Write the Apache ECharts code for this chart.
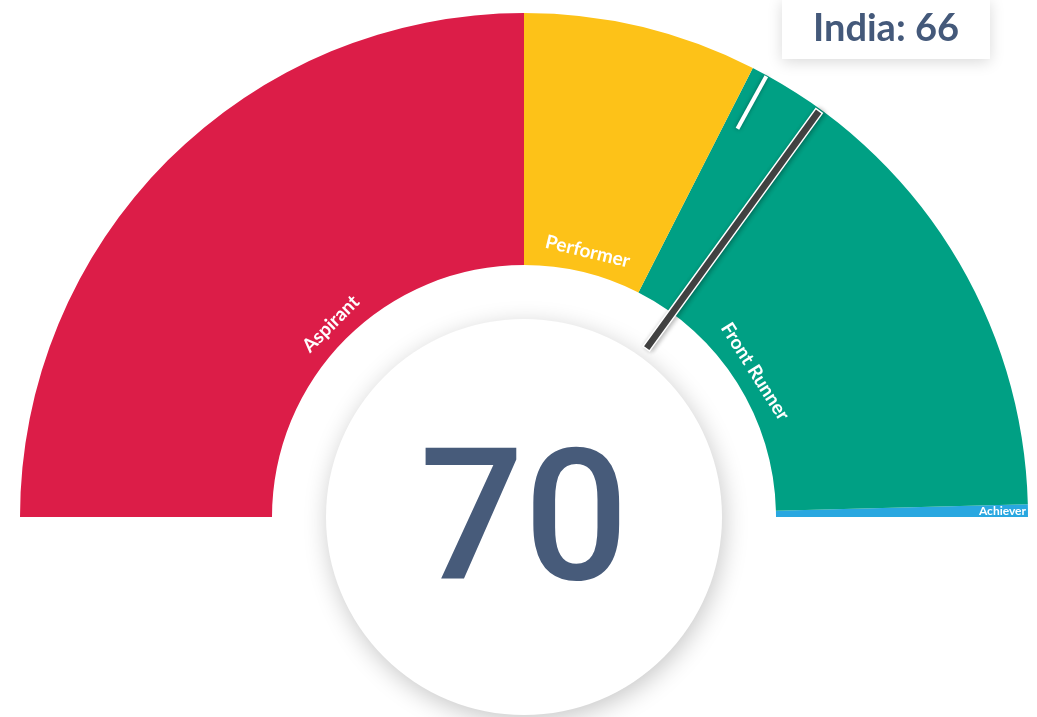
<!DOCTYPE html>
<html>
<head>
<meta charset="utf-8">
<script src="https://cdn.jsdelivr.net/npm/echarts@6/dist/echarts.min.js"></script>
<style>
  html, body { margin: 0; padding: 0; background: #fff; }
  #chart { width: 1037px; height: 717px; }
</style>
</head>
<body>
<div id="chart"></div>
<script>
// bands of the score scale (upper bound of each band)
const bandNames = ["Aspirant", "Performer", "Front Runner", "Achiever"];
const bandEnds = [50, 65, 99.2, 100];
const bandColors = ["#dc1d48", "#fdc218", "#00a084", "#29a7e0"];

const scoreValue = 70;
const indiaName = "India";
const indiaValue = 66;

const cx = 524;
const cy = 517;
const outerR = 504;
const innerR = 252;

const bandSizes = bandEnds.map((v, i) => v - (i === 0 ? 0 : bandEnds[i - 1]));

const chart = echarts.init(document.querySelector("#chart"));

const gaugeBase = {
  type: "gauge",
  center: [cx, cy],
  radius: outerR,
  startAngle: 180,
  endAngle: 0,
  min: 0,
  max: 100,
  silent: true,
  splitLine: { show: false },
  axisTick: { show: false },
  axisLabel: { show: false },
  title: { show: false },
};

const option = {
  animation: false,
  series: [
    // coloured bands
    Object.assign({}, gaugeBase, {
      z: 0,
      axisLine: {
        lineStyle: {
          width: outerR - innerR,
          color: bandEnds.map((v, i) => [v / 100, bandColors[i]]),
        },
      },
      pointer: { show: false },
      detail: { show: false },
      data: [{ value: 0 }],
    }),
    // band names on a thin transparent ring
    {
      type: "pie",
      z: 1,
      center: [cx, cy],
      radius: [innerR, innerR + 36],
      startAngle: 180,
      endAngle: 0,
      silent: true,
      emphasis: { disabled: true },
      itemStyle: { color: "rgba(0,0,0,0)" },
      labelLine: { show: false },
      label: {
        show: true,
        position: "inside",
        rotate: "tangential",
        color: "#fff",
        fontFamily: "Lato",
        fontWeight: "bold",
        fontSize: 19,
        formatter: "{b}",
      },
      data: bandNames.map((n, i) => ({
        name: n,
        value: bandSizes[i],
        label: { show: i < 3 },
      })),
    },
    // white centre disc
    {
      type: "pie",
      z: 1,
      center: [cx, cy],
      radius: [0, 198],
      silent: true,
      emphasis: { disabled: true },
      labelLine: { show: false },
      label: { show: false },
      itemStyle: {
        color: "#fff",
        shadowBlur: 24,
        shadowColor: "rgba(0,0,0,0.22)",
        shadowOffsetY: 6,
        shadowOffsetX: 2,
      },
      data: [{ name: "score", value: scoreValue }],
    },
    // India marker
    Object.assign({}, gaugeBase, {
      z: 3,
      axisLine: { show: false },
      pointer: {
        show: true,
        icon: "rect",
        width: 4,
        length: 60,
        offsetCenter: [0, -443],
        itemStyle: { color: "#fff", shadowBlur: 4, shadowColor: "rgba(0,0,0,0.35)" },
      },
      detail: {
        show: true,
        offsetCenter: [362, -488],
        formatter: indiaName + ": {value}",
        width: 208,
        height: 60,
        lineHeight: 60,
        padding: 0,
        align: "center",
        backgroundColor: "#fff",
        shadowBlur: 14,
        shadowColor: "rgba(0,0,0,0.15)",
        shadowOffsetY: 3,
        color: "#44597a",
        fontFamily: "Lato",
        fontWeight: "bold",
        fontSize: 38,
      },
      data: [{ value: indiaValue }],
    }),
    // score needle and score number
    Object.assign({}, gaugeBase, {
      z: 3,
      axisLine: { show: false },
      pointer: {
        show: true,
        icon: "rect",
        width: 8,
        length: 294,
        offsetCenter: [0, -208],
        itemStyle: {
          color: "#454545",
          borderColor: "#fff",
          borderWidth: 1.5,
          shadowBlur: 5,
          shadowColor: "rgba(0,0,0,0.3)",
          shadowOffsetX: 2,
        },
      },
      detail: {
        show: true,
        offsetCenter: [0, 16],
        formatter: "{value}",
        color: "#475b7a",
        fontFamily: "Roboto",
        fontWeight: 500,
        fontSize: 184,
      },
      data: [{ value: scoreValue }],
    }),
  ],
  graphic: [
    {
      type: "text",
      z: 100,
      right: 11,
      top: 505,
      style: {
        text: bandNames[3],
        fill: "#fff",
        font: "bold 12px Lato",
      },
    },
  ],
};

chart.setOption(option);
</script>
</body>
</html>
